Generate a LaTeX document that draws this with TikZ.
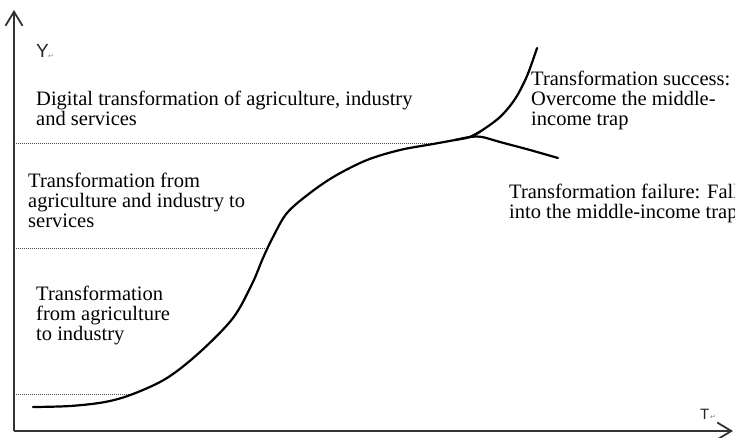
\documentclass[tikz,border=0pt]{standalone}
\usepackage{fontspec}
\setmainfont{Liberation Serif}
\newfontfamily\labelfont{Liberation Sans}
\newfontfamily\markfont{DejaVu Sans}
\usetikzlibrary{arrows.meta}
\tikzset{
  axis/.style={line width=2pt, draw=black!80, -{Straight Barb[length=14pt,width=17pt,line width=1.8pt]}},
  guide/.style={draw=black!70, line width=0.8pt, dash pattern=on 1pt off 1pt},
  curve/.style={draw=black, line width=2.2pt, line cap=round},
  stage/.style={anchor=north west, inner sep=0pt, align=left, font=\fontsize{20.5}{20}\selectfont, text=black},
  axlabel/.style={anchor=base west, inner sep=0pt, font=\labelfont, text=black!85},
  pmark/.style={anchor=base west, inner sep=0pt, font=\markfont\fontsize{7}{7}\selectfont, text=black!45}
}
\begin{document}
\begin{tikzpicture}[x=1pt,y=-1pt]
\clip (0,0) rectangle (735,437);
\fill[white] (0,0) rectangle (735,437);

% axes
\coordinate (O) at (14,431);
\coordinate (ytop) at (14,10);
\coordinate (xend) at (733,431);
\draw[axis] (O) -- (ytop);
\draw[axis] (O) -- (xend);

\node[axlabel, font=\labelfont\fontsize{19}{19}\selectfont] (ylab) at (36,57) {Y};
\node[pmark] (ymark) at (48,58) {↵};
\node[axlabel, font=\labelfont\fontsize{15}{15}\selectfont] (tlab) at (700,419) {T};
\node[pmark] (tmark) at (710,419) {↵};

% dotted guide lines
\coordinate (g1a) at (14,143);  \coordinate (g1b) at (436,143);
\coordinate (g2a) at (14,248);  \coordinate (g2b) at (268,248);
\coordinate (g3a) at (14,394);  \coordinate (g3b) at (133,394);
\draw[guide] (g1a) -- (g1b);
\draw[guide] (g2a) -- (g2b);
\draw[guide] (g3a) -- (g3b);

% main curve
\draw[curve] plot[smooth, tension=0.55] coordinates {
  (33,407) (70,406) (105,402) (133,394) (167,378) (200,352) (233,318)
  (252,284) (263,258) (273,237) (287,213) (310,193) (335,176) (367,160)
  (400,150) (433,144) (455,140) (470,137) (481,131)};
% success branch
\draw[curve] plot[smooth, tension=0.55] coordinates {
  (470,137) (481,131) (500,117) (515,99) (527,76) (537,48)};
% failure branch
\draw[curve] plot[smooth, tension=0.55] coordinates {
  (455,140) (470,137) (482,137) (500,142) (530,150) (558,158)};

% stage texts
\node[stage] (s3) at (36,91) {Digital transformation of agriculture, industry\\and services};
\node[stage] (s2) at (28,173) {Transformation from\\agriculture and industry to\\services};
\node[stage] (s1) at (36,286) {Transformation\\from agriculture\\to industry};
\node[stage] (succ) at (531,71) {Transformation success:\\Overcome the middle-\\income trap};
\node[stage] (fail) at (509,184) {Transformation failure: Fall\\into the middle-income trap};
\end{tikzpicture}
\end{document}
